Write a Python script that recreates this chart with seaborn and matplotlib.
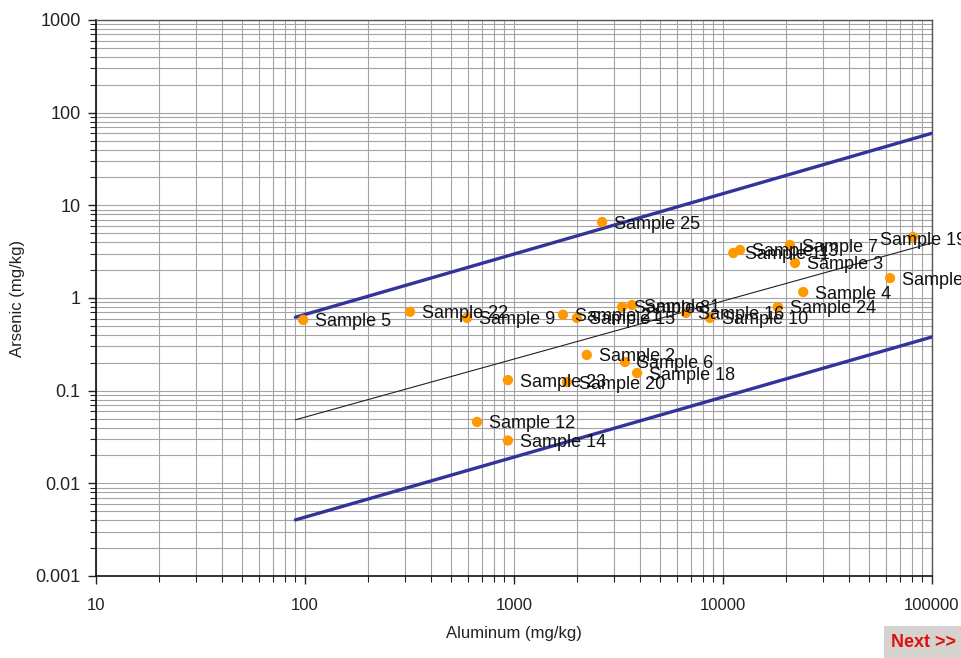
import matplotlib
matplotlib.use("Agg")
import matplotlib.pyplot as plt
from matplotlib.ticker import LogLocator, NullFormatter
import pandas as pd
import seaborn as sns

# Sample measurements (mg/kg)
samples = ["Sample 5", "Sample 22", "Sample 9", "Sample 21", "Sample 15",
           "Sample 8", "Sample 1", "Sample 16", "Sample 10", "Sample 24",
           "Sample 11", "Sample 13", "Sample 7", "Sample 3", "Sample 4",
           "Sample 17", "Sample 19", "Sample 25", "Sample 2", "Sample 6",
           "Sample 18", "Sample 20", "Sample 23", "Sample 12", "Sample 14"]
aluminum = [98, 318, 596, 1715, 2000,
            3290, 3670, 6650, 8670, 18300,
            11200, 12050, 20900, 22100, 24200,
            63000, 81000, 2640, 2230, 3400,
            3880, 1790, 935, 665, 935]
arsenic = [0.58, 0.71, 0.61, 0.66, 0.61,
           0.80, 0.84, 0.69, 0.61, 0.80,
           3.06, 3.30, 3.73, 2.39, 1.16,
           1.64, 4.55, 6.6, 0.243, 0.204,
           0.155, 0.124, 0.130, 0.046, 0.029]

# Background relationship: trend line and upper / lower bounds
band_x = [90, 100000]
upper_y = [0.62, 60]
trend_y = [0.0485, 3.93]
lower_y = [0.00403, 0.38]

x_ticks = [10, 100, 1000, 10000, 100000]
y_ticks = [0.001, 0.01, 0.1, 1, 10, 100, 1000]

sns.set_theme(style="white")
plt.rcParams["font.family"] = ["Liberation Sans", "DejaVu Sans"]

fig = plt.figure(figsize=(9.61, 6.58), dpi=100)
ax = fig.add_axes([96 / 961, 1 - 576 / 658, (932 - 96) / 961, (576 - 20) / 658])
ax.set_xscale("log")
ax.set_yscale("log")
ax.set_xlim(x_ticks[0], x_ticks[-1])
ax.set_ylim(y_ticks[0], y_ticks[-1])

grid_col = "#a4a4a4"
ax.grid(True, which="both", color=grid_col, linewidth=0.8)
ax.set_axisbelow(True)

lines = pd.DataFrame({"x": band_x * 3,
                      "y": upper_y + trend_y + lower_y,
                      "kind": ["upper"] * 2 + ["trend"] * 2 + ["lower"] * 2})
sns.lineplot(data=lines[lines.kind == "upper"], x="x", y="y", ax=ax,
             color="#333399", linewidth=2.4, estimator=None, sort=False, zorder=3)
sns.lineplot(data=lines[lines.kind == "lower"], x="x", y="y", ax=ax,
             color="#333399", linewidth=2.4, estimator=None, sort=False, zorder=3)
sns.lineplot(data=lines[lines.kind == "trend"], x="x", y="y", ax=ax,
             color="#222222", linewidth=0.8, estimator=None, sort=False, zorder=3)

df = pd.DataFrame({"sample": samples, "aluminum": aluminum, "arsenic": arsenic})
sns.scatterplot(data=df, x="aluminum", y="arsenic", ax=ax, color="#FF9900",
                s=55, edgecolor="none", zorder=4)

# label offsets in pixels (right of the point unless listed)
offsets = {"Sample 19": (-33, -3)}
for name, xv, yv in zip(samples, aluminum, arsenic):
    dx, dy = offsets.get(name, (12, -2))
    ax.annotate(name, (xv, yv), xytext=(dx * 0.72, dy * 0.72),
                textcoords="offset points", ha="left", va="center",
                fontsize=13, color="#111111", zorder=5, annotation_clip=False)

ax.xaxis.set_minor_locator(LogLocator(base=10, subs=range(2, 10), numticks=20))
ax.yaxis.set_minor_locator(LogLocator(base=10, subs=range(2, 10), numticks=20))
ax.xaxis.set_minor_formatter(NullFormatter())
ax.yaxis.set_minor_formatter(NullFormatter())
ax.set_xticks(x_ticks)
ax.set_xticklabels([f"{v:g}" for v in x_ticks])
ax.set_yticks(y_ticks)
ax.set_yticklabels([f"{v:g}" for v in y_ticks])

ax.tick_params(axis="both", which="major", direction="out", length=6, width=1,
               color="#222222", labelcolor="#222222")
ax.tick_params(axis="y", which="major", pad=5, labelsize=13)
ax.tick_params(axis="x", which="major", pad=10, labelsize=12)
ax.tick_params(axis="both", which="minor", direction="out", length=4, width=0.8,
               color="#222222")
ax.tick_params(axis="x", which="both", bottom=True)
ax.tick_params(axis="y", which="both", left=True)

for side in ("left", "bottom"):
    ax.spines[side].set_color("#111111")
    ax.spines[side].set_linewidth(1.2)
for side in ("top", "right"):
    ax.spines[side].set_color("#555555")
    ax.spines[side].set_linewidth(1.0)

ax.set_xlabel("Aluminum (mg/kg)", fontsize=12, color="#222222", labelpad=9)
ax.set_ylabel("Arsenic (mg/kg)", fontsize=12, color="#222222")
ax.yaxis.set_label_coords(-71 / 836, 0.5)

fig.text(0.995, 0.024, "Next >>", ha="right", va="center", fontsize=13,
         fontweight="bold", color="#dd1111",
         bbox=dict(boxstyle="square,pad=0.4", facecolor="#d6d3ce", edgecolor="none"))

fig.savefig("out.png", dpi=100)
